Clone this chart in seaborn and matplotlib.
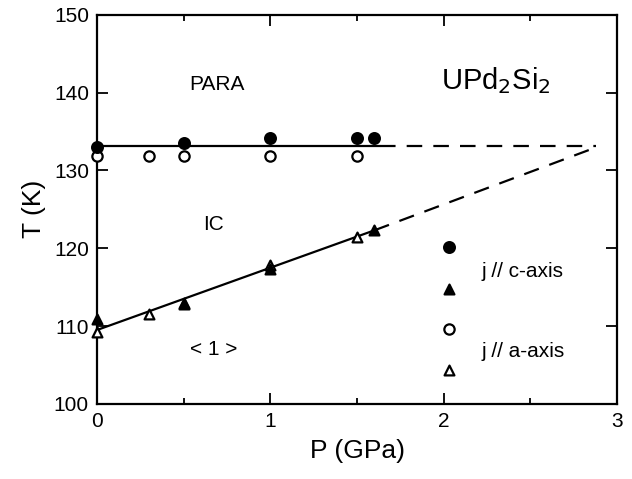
import numpy as np
import pandas as pd
import seaborn as sns
from matplotlib import pyplot as plt

# j // c-axis
p_c_circ = [0.0, 0.5, 1.0, 1.5, 1.6]
t_c_circ = [133.0, 133.5, 134.2, 134.2, 134.2]
p_c_tri = [0.0, 0.5, 1.0, 1.6]
t_c_tri = [110.9, 112.8, 117.3, 122.3]

# j // a-axis
p_a_circ = [0.0, 0.3, 0.5, 1.0, 1.5]
t_a_circ = [131.9, 131.9, 131.9, 131.9, 131.9]
p_a_tri = [0.0, 0.3, 0.5, 1.0, 1.5]
t_a_tri = [109.2, 111.5, 113.0, 117.9, 121.4]

# phase boundaries
upper_solid_p = [0.0, 1.63]
upper_solid_t = [133.1, 133.1]
upper_dash_p = [1.63, 2.88]
upper_dash_t = [133.1, 133.1]
lower_solid_p = [0.0, 1.6]
lower_solid_t = [109.5, 122.3]
lower_dash_p = [1.6, 2.86]
lower_dash_t = [122.3, 132.8]

sns.set_style("ticks")
plt.rcParams["font.family"] = ["Liberation Sans", "DejaVu Sans"]
plt.rcParams.update({"text.color": "black", "axes.labelcolor": "black",
                     "xtick.color": "black", "ytick.color": "black",
                     "axes.edgecolor": "black"})

fig = plt.figure(figsize=(6.32, 4.79), dpi=100)
ax = fig.add_axes([0.154, 0.157, 0.822, 0.812])

sns.lineplot(x=upper_solid_p, y=upper_solid_t, ax=ax, color="black", lw=1.6)
sns.lineplot(x=lower_solid_p, y=lower_solid_t, ax=ax, color="black", lw=1.6)
sns.lineplot(x=upper_dash_p, y=upper_dash_t, ax=ax, color="black", lw=1.6, linestyle=(0, (7, 5)))
sns.lineplot(x=lower_dash_p, y=lower_dash_t, ax=ax, color="black", lw=1.6, linestyle=(0, (7, 5)))

kw = dict(ax=ax, edgecolor="black", linewidth=1.6, zorder=5, clip_on=False)
sns.scatterplot(x=p_a_circ, y=t_a_circ, marker="o", color="white", s=55, **kw)
sns.scatterplot(x=p_a_tri, y=t_a_tri, marker="^", color="white", s=50, **kw)
sns.scatterplot(x=p_c_circ, y=t_c_circ, marker="o", color="black", s=60, **kw)
sns.scatterplot(x=p_c_tri, y=t_c_tri, marker="^", color="black", s=50, **kw)

# legend drawn as in the figure
leg_p = 2.03
sns.scatterplot(x=[leg_p], y=[120.2], marker="o", color="black", s=60, **kw)
sns.scatterplot(x=[leg_p], y=[114.7], marker="^", color="black", s=50, **kw)
sns.scatterplot(x=[leg_p], y=[109.6], marker="o", color="white", s=55, **kw)
sns.scatterplot(x=[leg_p], y=[104.3], marker="^", color="white", s=50, **kw)
ax.text(2.22, 117.0, "j // c-axis", fontsize=15, va="center")
ax.text(2.22, 106.7, "j // a-axis", fontsize=15, va="center")

ax.text(0.69, 141.0, "PARA", fontsize=15, ha="center", va="center")
ax.text(0.67, 123.0, "IC", fontsize=15, ha="center", va="center")
ax.text(0.67, 107.0, "< 1 >", fontsize=15, ha="center", va="center")
ax.text(2.30, 141.6, r"UPd$_2$Si$_2$", fontsize=21, ha="center", va="center")

ax.set_xlim(0, 3)
ax.set_ylim(100, 150)
ax.set_xticks([0, 1, 2, 3])
ax.set_xticks([0.5, 1.5, 2.5], minor=True)
ax.set_yticks([100, 110, 120, 130, 140, 150])
ax.tick_params(which="both", direction="in", top=True, right=True, width=1.3)
ax.tick_params(which="major", length=8, labelsize=15, pad=6)
ax.tick_params(which="minor", length=4.5)
for s in ax.spines.values():
    s.set_linewidth(1.6)
ax.set_xlabel("P (GPa)", fontsize=19, labelpad=6)
ax.set_ylabel("T (K)", fontsize=19, labelpad=6)

fig.savefig("out.png", dpi=100)
